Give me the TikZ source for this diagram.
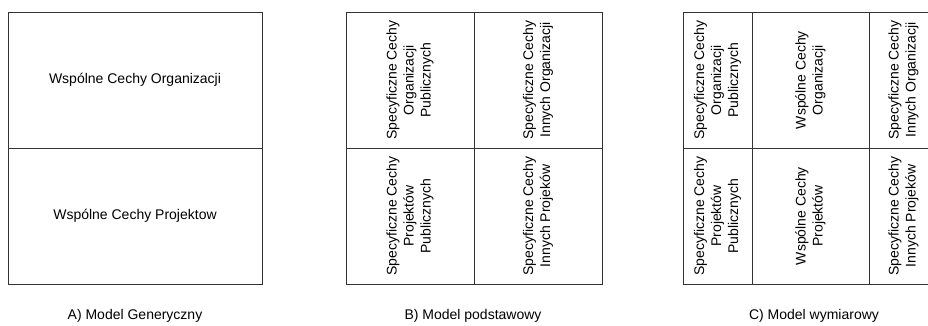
\documentclass[tikz,border=0pt]{standalone}
\usepackage{fontspec}
\setmainfont{Liberation Sans}
\usetikzlibrary{positioning}

\begin{document}
\begin{tikzpicture}[x=1pt, y=-1pt,
cell/.style={rectangle, draw=black!80, line width=.8pt, inner sep=0pt,
align=center, font=\fontsize{14}{17}\selectfont},
%
hcell/.style={cell, minimum width=254pt, minimum height=136pt},
%
vcell/.style={cell, rotate=90, minimum width=136pt},
%
caption/.style={font=\fontsize{14}{17}\selectfont}]

\useasboundingbox (0,0) rectangle (928,325);
\clip (0,0) rectangle (928,325);

\begin{scope}
  %%%%%%%%%%%%%%%%%%%%%%%%%%%%%%
  \node [hcell] (genOrg) at (135,80) {Wspólne Cechy Organizacji};
  \node [hcell] (genProj) at (135,216) {Wspólne Cechy Projektow};
  %%%%%%%%%%%%%%%%%%%%%%%%%%%%%%
  \node [caption] (genCap) at (135,316) {A) Model Generyczny};
\end{scope}

\begin{scope}
  %%%%%%%%%%%%%%%%%%%%%%%%%%%%%%
  \node [vcell, minimum height=128pt] (basPubOrg) at (410,80)
  {Specyficzne Cechy\\Organizacji\\Publicznych};
  \node [vcell, minimum height=128pt] (basInOrg) at (538,80)
  {Specyficzne Cechy\\Innych Organizacji};
  %%%%%%%%%%%%%%%%%%%%%%%%%%%%%%
  \node [vcell, minimum height=128pt] (basPubProj) at (410,216)
  {Specyficzne Cechy\\Projektów\\Publicznych};
  \node [vcell, minimum height=128pt] (basInProj) at (538,216)
  {Specyficzne Cechy\\Innych Projeków};
  %%%%%%%%%%%%%%%%%%%%%%%%%%%%%%
  \node [caption] (basCap) at (473,316) {B) Model podstawowy};
\end{scope}

\begin{scope}
  %%%%%%%%%%%%%%%%%%%%%%%%%%%%%%
  \node [vcell, minimum height=69pt] (dimPubOrg) at (717.5,80)
  {Specyficzne Cechy\\Organizacji\\Publicznych};
  \node [vcell, minimum height=117pt] (dimOrg) at (810.5,80)
  {Wspólne Cechy\\Organizacji};
  \node [vcell, minimum height=69pt] (dimInOrg) at (903.5,80)
  {Specyficzne Cechy\\Innych Organizacji};
  %%%%%%%%%%%%%%%%%%%%%%%%%%%%%%
  \node [vcell, minimum height=69pt] (dimPubProj) at (717.5,216)
  {Specyficzne Cechy\\Projektów\\Publicznych};
  \node [vcell, minimum height=117pt] (dimProj) at (810.5,216)
  {Wspólne Cechy\\Projektów};
  \node [vcell, minimum height=69pt] (dimInProj) at (903.5,216)
  {Specyficzne Cechy\\Innych Projeków};
  %%%%%%%%%%%%%%%%%%%%%%%%%%%%%%
  \node [caption] (dimCap) at (814,316) {C) Model wymiarowy};
\end{scope}

\end{tikzpicture}
\end{document}
